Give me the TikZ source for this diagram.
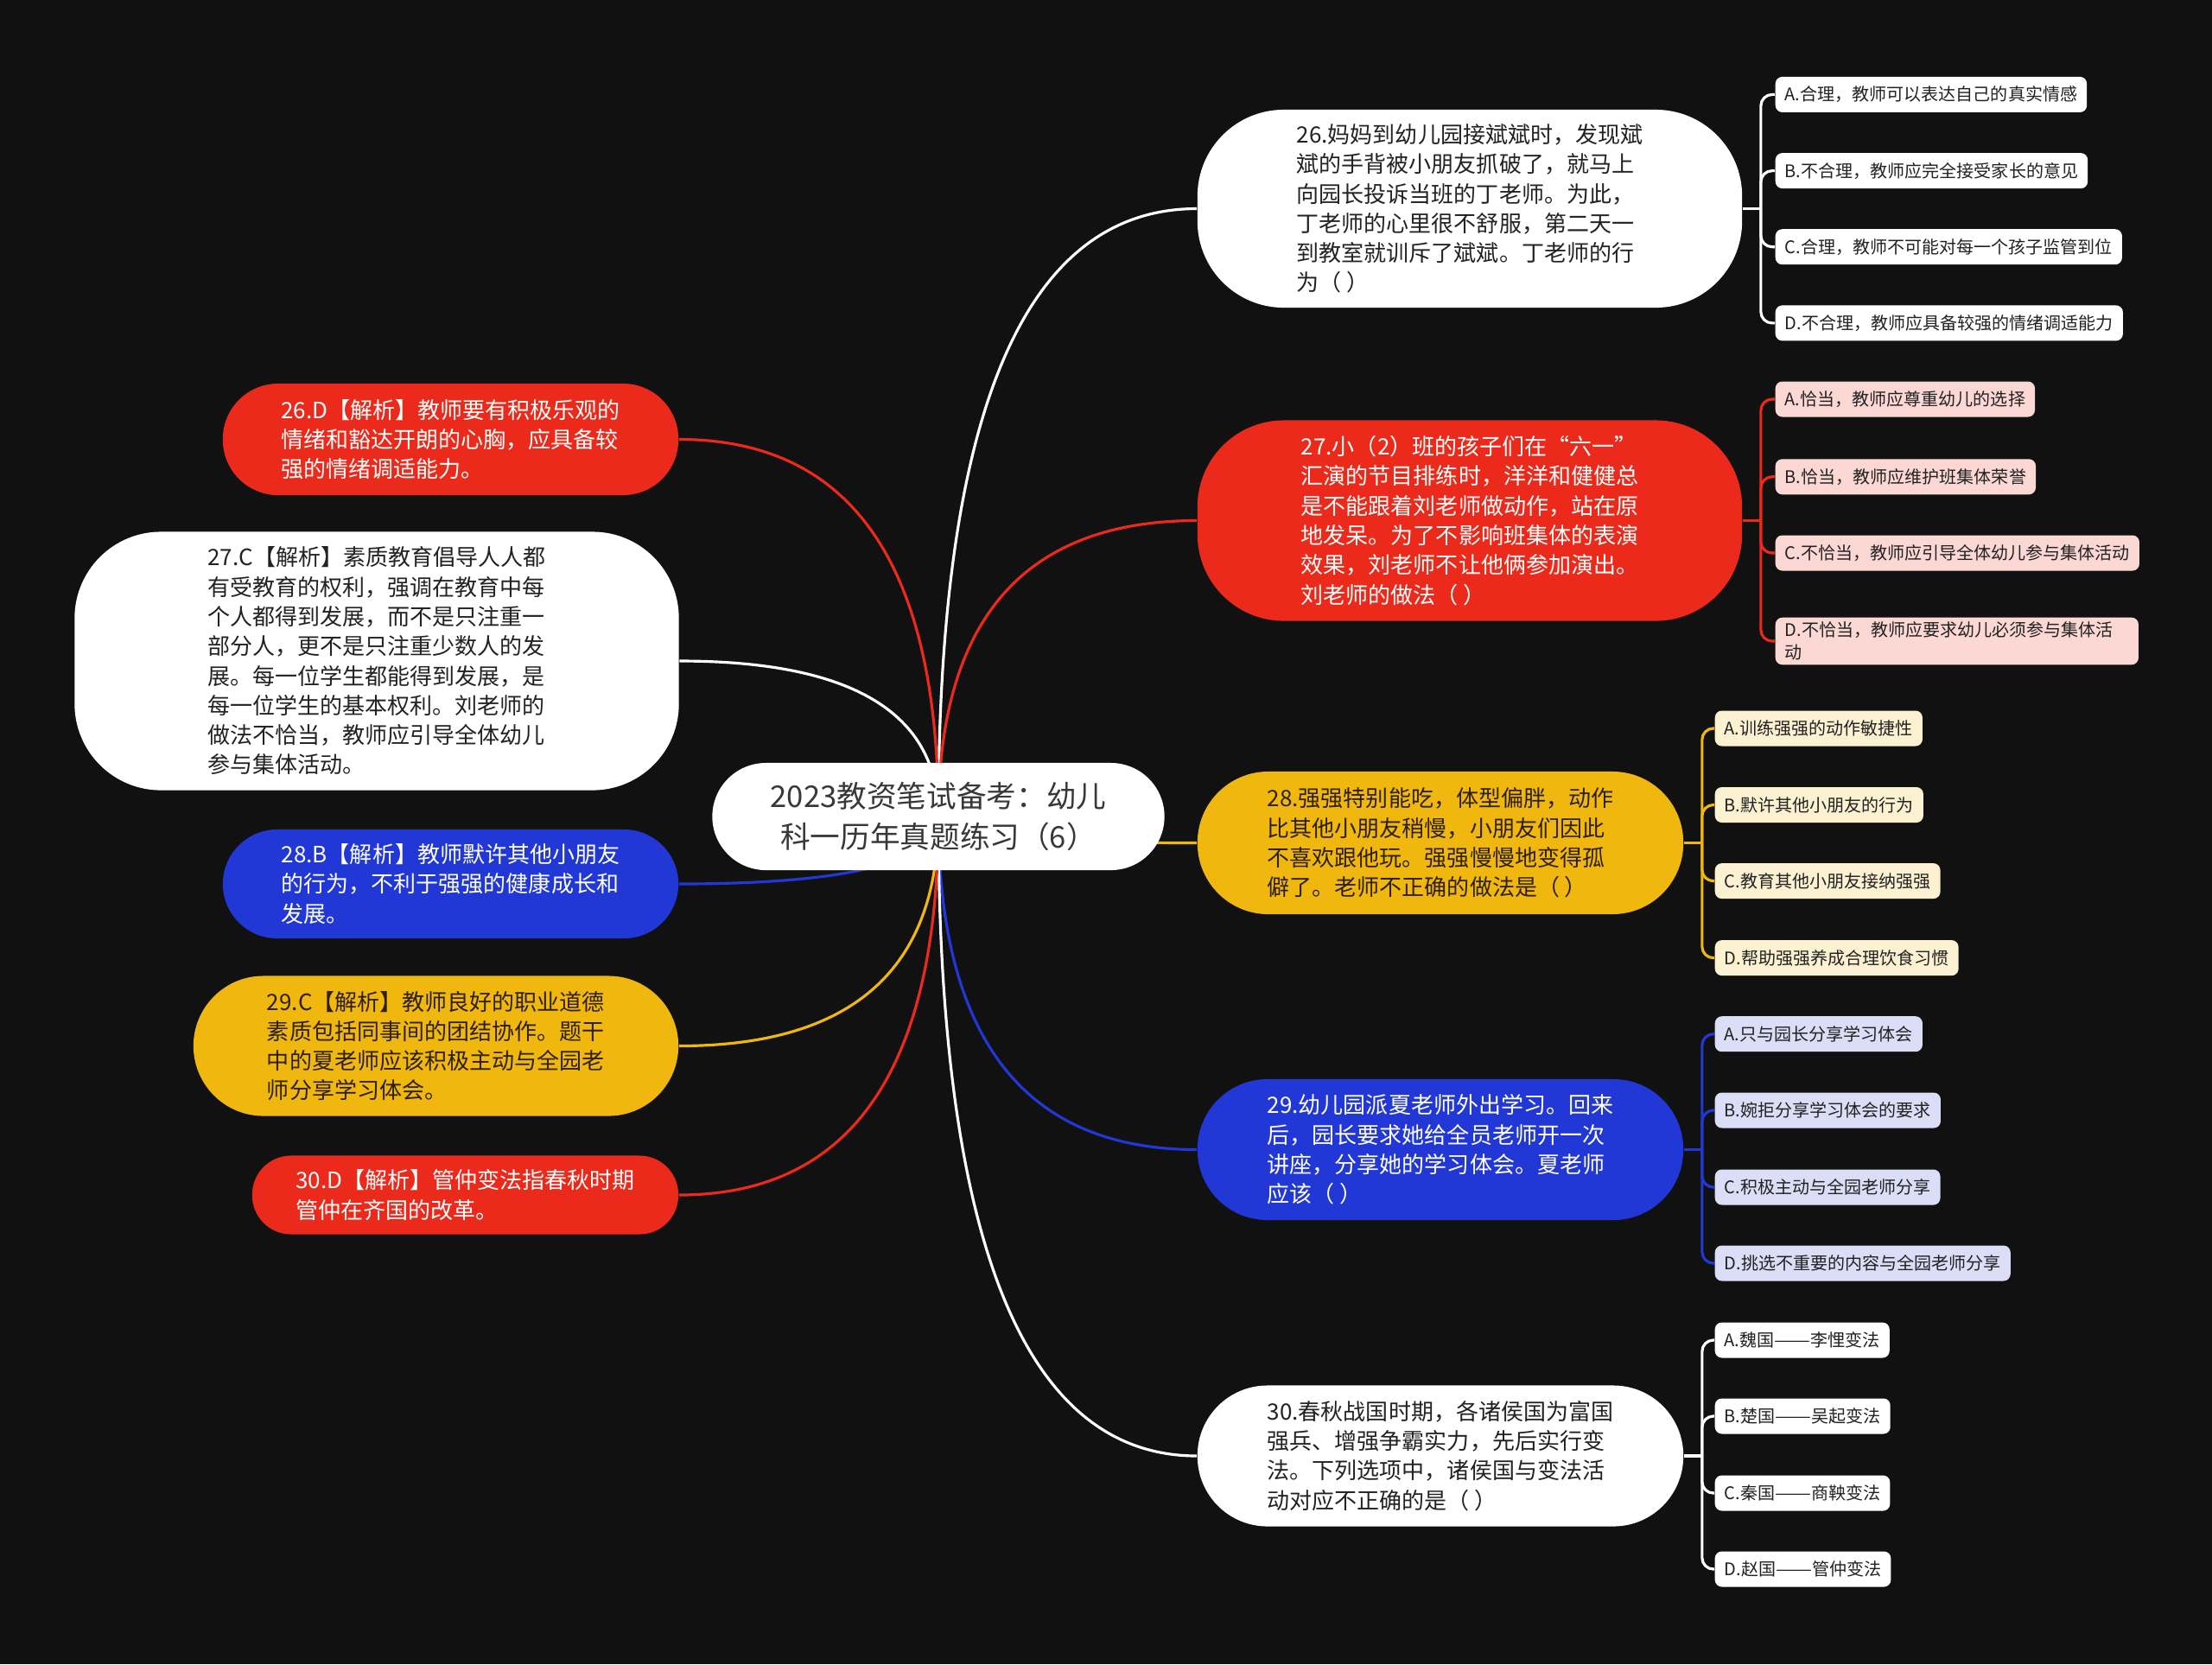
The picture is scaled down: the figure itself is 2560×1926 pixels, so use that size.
\documentclass[tikz,border=0pt]{standalone}
\usepackage{fontspec}
\usepackage{graphicx}
\setmainfont{Noto Sans CJK SC}
\usetikzlibrary{calc}
\definecolor{bgc}{RGB}{17,17,17}
\definecolor{mmred}{RGB}{236,42,28}
\definecolor{mmblue}{RGB}{34,56,214}
\definecolor{mmyellow}{RGB}{240,183,14}
\definecolor{optpink}{RGB}{252,216,212}
\definecolor{optcream}{RGB}{252,242,210}
\definecolor{optlav}{RGB}{220,222,248}
\definecolor{darktxt}{RGB}{34,34,34}
\definecolor{yeltxt}{RGB}{45,32,0}
\pgfdeclarelayer{bglayer}
\pgfdeclarelayer{edgelayer}
\pgfsetlayers{bglayer,edgelayer,main}
\tikzset{
  mbox/.style={rectangle, align=left, inner sep=0pt, font=\fontsize{7.4pt}{9.75pt}\selectfont},
  opt/.style={rectangle, rounded corners=0.08cm, anchor=west, align=left, inner xsep=0.11cm, inner ysep=0.05cm, minimum height=0.41cm, font=\fontsize{5.7pt}{7.4pt}\selectfont, text=darktxt},
  link/.style={line width=0.9pt},
  brk/.style={line width=0.9pt, rounded corners=0.13cm},
}
\newcommand\mmcurve[3]{%
  \coordinate (#3) at (cn.center |- #2);
  \draw[link,#1] (cn.center) .. controls ($(cn.center)!0.6667!(#3)$) and ($(#2)!0.6667!(#3)$) .. (#2);}
\newcommand\mmbrk[7]{%
  \coordinate (#3) at ($(#2.east)+(21,0)$);
  \draw[link,#1] (#2.east) -- (#3);
  \foreach \o in {#4,#5,#6,#7} \draw[brk,#1] (#3) |- (\o.west);}
\newcommand\mmdash{\scalebox{1.25}[1]{——}}
\begin{document}
\begin{tikzpicture}[x=0.01cm,y=-0.01cm]
\useasboundingbox (0,0) rectangle (2560,1926);
\begin{pgfonlayer}{bglayer}
\fill[bgc] (0,0) rectangle (2560,1926);
\end{pgfonlayer}

% central
\node[mbox, align=center, fill=white, text=darktxt!90, minimum width=5.23cm, minimum height=1.24cm, rounded corners=0.62cm, font=\fontsize{9.85pt}{13.1pt}\selectfont] (cn) at (1086,945) {2023教资笔试备考：幼儿\\科一历年真题练习（6）};

% questions
\node[mbox, fill=white, text=darktxt, minimum width=6.30cm, minimum height=2.29cm, rounded corners=1cm] (q26) at (1701,241.5) {26.妈妈到幼儿园接斌斌时，发现斌\\斌的手背被小朋友抓破了，就马上\\向园长投诉当班的丁老师。为此，\\丁老师的心里很不舒服，第二天一\\到教室就训斥了斌斌。丁老师的行\\为（ ）};
\node[mbox, fill=mmred, text=white, minimum width=6.30cm, minimum height=2.32cm, rounded corners=1cm] (q27) at (1701,602.5) {27.小（2）班的孩子们在“六一”\\汇演的节目排练时，洋洋和健健总\\是不能跟着刘老师做动作，站在原\\地发呆。为了不影响班集体的表演\\效果，刘老师不让他俩参加演出。\\刘老师的做法（ ）};
\node[mbox, fill=mmyellow, text=yeltxt, minimum width=5.62cm, minimum height=1.65cm, rounded corners=0.82cm] (q28) at (1667,975.5) {28.强强特别能吃，体型偏胖，动作\\比其他小朋友稍慢，小朋友们因此\\不喜欢跟他玩。强强慢慢地变得孤\\僻了。老师不正确的做法是（ ）};
\node[mbox, fill=mmblue, text=white, minimum width=5.62cm, minimum height=1.63cm, rounded corners=0.81cm] (q29) at (1667,1330.5) {29.幼儿园派夏老师外出学习。回来\\后，园长要求她给全员老师开一次\\讲座，分享她的学习体会。夏老师\\应该（ ）};
\node[mbox, fill=white, text=darktxt, minimum width=5.62cm, minimum height=1.63cm, rounded corners=0.81cm] (q30) at (1667,1685) {30.春秋战国时期，各诸侯国为富国\\强兵、增强争霸实力，先后实行变\\法。下列选项中，诸侯国与变法活\\动对应不正确的是（ ）};

% answers
\node[mbox, fill=mmred, text=white, minimum width=5.27cm, minimum height=1.29cm, rounded corners=0.64cm] (a26) at (521.5,508.5) {26.D【解析】教师要有积极乐观的\\情绪和豁达开朗的心胸，应具备较\\强的情绪调适能力。};
\node[mbox, fill=white, text=darktxt, minimum width=6.99cm, minimum height=2.99cm, rounded corners=1cm] (a27) at (436,765) {27.C【解析】素质教育倡导人人都\\有受教育的权利，强调在教育中每\\个人都得到发展，而不是只注重一\\部分人，更不是只注重少数人的发\\展。每一位学生都能得到发展，是\\每一位学生的基本权利。刘老师的\\做法不恰当，教师应引导全体幼儿\\参与集体活动。};
\node[mbox, fill=mmblue, text=white, minimum width=5.27cm, minimum height=1.26cm, rounded corners=0.63cm] (a28) at (521.5,1023) {28.B【解析】教师默许其他小朋友\\的行为，不利于强强的健康成长和\\发展。};
\node[mbox, fill=mmyellow, text=yeltxt, minimum width=5.61cm, minimum height=1.62cm, rounded corners=0.81cm] (a29) at (504.5,1210.5) {29.C【解析】教师良好的职业道德\\素质包括同事间的团结协作。题干\\中的夏老师应该积极主动与全园老\\师分享学习体会。};
\node[mbox, fill=mmred, text=white, minimum width=4.93cm, minimum height=0.91cm, rounded corners=0.45cm] (a30) at (538.5,1383) {30.D【解析】管仲变法指春秋时期\\管仲在齐国的改革。};

% options
\node[opt, fill=white] (o26a) at (2054,109.4) {A.合理，教师可以表达自己的真实情感};
\node[opt, fill=white] (o26b) at (2054,197.6) {B.不合理，教师应完全接受家长的意见};
\node[opt, fill=white] (o26c) at (2054,285.7) {C.合理，教师不可能对每一个孩子监管到位};
\node[opt, fill=white] (o26d) at (2054,373.9) {D.不合理，教师应具备较强的情绪调适能力};

\node[opt, fill=optpink] (o27a) at (2054,462) {A.恰当，教师应尊重幼儿的选择};
\node[opt, fill=optpink] (o27b) at (2054,551.8) {B.恰当，教师应维护班集体荣誉};
\node[opt, fill=optpink] (o27c) at (2054,640) {C.不恰当，教师应引导全体幼儿参与集体活动};
\node[opt, fill=optpink, text width=3.98cm] (o27d) at (2054,742) {D.不恰当，教师应要求幼儿必须参与集体活\\动};

\node[opt, fill=optcream] (o28a) at (1984,843) {A.训练强强的动作敏捷性};
\node[opt, fill=optcream] (o28b) at (1984,931.5) {B.默许其他小朋友的行为};
\node[opt, fill=optcream] (o28c) at (1984,1019.6) {C.教育其他小朋友接纳强强};
\node[opt, fill=optcream] (o28d) at (1984,1108.6) {D.帮助强强养成合理饮食习惯};

\node[opt, fill=optlav] (o29a) at (1984,1196.7) {A.只与园长分享学习体会};
\node[opt, fill=optlav] (o29b) at (1984,1285) {B.婉拒分享学习体会的要求};
\node[opt, fill=optlav] (o29c) at (1984,1374) {C.积极主动与全园老师分享};
\node[opt, fill=optlav] (o29d) at (1984,1462) {D.挑选不重要的内容与全园老师分享};

\node[opt, fill=white] (o30a) at (1984,1551) {A.魏国\mmdash 李悝变法};
\node[opt, fill=white] (o30b) at (1984,1639) {B.楚国\mmdash 吴起变法};
\node[opt, fill=white] (o30c) at (1984,1728) {C.秦国\mmdash 商鞅变法};
\node[opt, fill=white] (o30d) at (1984,1816) {D.赵国\mmdash 管仲变法};

% connectors
\begin{pgfonlayer}{edgelayer}
\mmcurve{white}{q26.west}{k1}
\mmcurve{mmred}{q27.west}{k2}
\mmcurve{mmyellow}{q28.west}{k3}
\mmcurve{mmblue}{q29.west}{k4}
\mmcurve{white}{q30.west}{k5}
\mmcurve{mmred}{a26.east}{k6}
\mmcurve{white}{a27.east}{k7}
\mmcurve{mmblue}{a28.east}{k8}
\mmcurve{mmyellow}{a29.east}{k9}
\mmcurve{mmred}{a30.east}{k10}
\mmbrk{white}{q26}{j26}{o26a}{o26b}{o26c}{o26d}
\mmbrk{mmred}{q27}{j27}{o27a}{o27b}{o27c}{o27d}
\mmbrk{mmyellow}{q28}{j28}{o28a}{o28b}{o28c}{o28d}
\mmbrk{mmblue}{q29}{j29}{o29a}{o29b}{o29c}{o29d}
\mmbrk{white}{q30}{j30}{o30a}{o30b}{o30c}{o30d}
\end{pgfonlayer}
\end{tikzpicture}
\end{document}
